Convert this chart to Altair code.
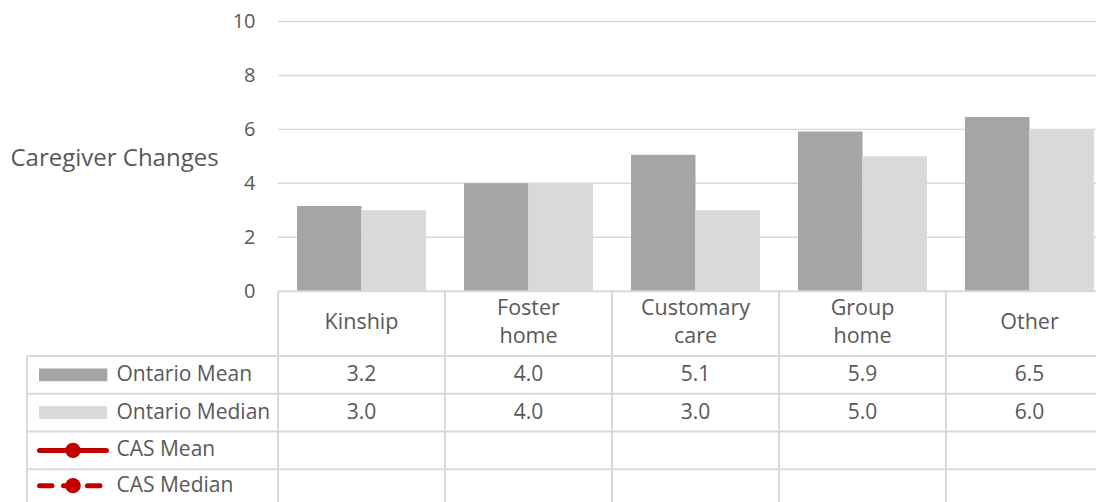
import altair as alt
import pandas as pd

# ---------------- data ----------------
categories = ["Kinship", "Foster home", "Customary care", "Group home", "Other"]
category_labels = ["Kinship", "Foster\nhome", "Customary\ncare", "Group\nhome", "Other"]
ontario_mean = [3.16, 4.0, 5.06, 5.92, 6.46]
ontario_median = [3.0, 4.0, 3.0, 5.0, 6.0]
series_names = ["Ontario Mean", "Ontario Median", "CAS Mean", "CAS Median"]
y_ticks = [0, 2, 4, 6, 8, 10]
y_title = "Caregiver Changes"

# ---------------- layout (pixels of the 1104x502 page) ----------------
PAGE_X0, PAGE_Y0 = 278.0, 291.2      # page position of (category 0 start, value 0)
PX_PER_COL, PX_PER_UNIT = 167.0, 26.97
SVG_LEFT, SVG_TOP = 8.0, 8.0
W, H = 1088, 494

def xu(px):
    return (px - PAGE_X0) / PX_PER_COL

def yu(py):
    return (PAGE_Y0 - py) / PX_PER_UNIT

X_DOMAIN = [xu(SVG_LEFT), xu(SVG_LEFT + W)]
Y_DOMAIN = [yu(SVG_TOP + H), yu(SVG_TOP)]
TABLE_LEFT = xu(27)
HEADER_MID = yu(323.4)
HEADER_LINE_H = 28.0 / PX_PER_UNIT
ROW_TOP = yu(356)
ROW_H = 37.75 / PX_PER_UNIT
N_COLS = len(categories)
BAR_PAD = 19.0 / PX_PER_COL
LABEL_X = xu(116.5)
SYM_X0, SYM_X1 = xu(39), xu(107.3)
LINE_X0, LINE_X1 = xu(39.5), xu(106.5)
SYM_MID = xu(73)
SYM_HALF_H = 6.3 / PX_PER_UNIT


def row_center(r):
    top = ROW_TOP - r * ROW_H
    bottom = max(top - ROW_H, Y_DOMAIN[0])   # last row is cut by the page edge
    return (top + bottom) / 2


TEXT = "#595959"
GRID = "#D9D9D9"
MEAN_C = "#A5A5A5"
MEDIAN_C = "#D9D9D9"
RED = "#C00000"
FONT = "Open Sans"

xs = alt.Scale(domain=X_DOMAIN, nice=False, zero=False)
ys = alt.Scale(domain=Y_DOMAIN, nice=False, zero=False)

# ---------------- tables ----------------
bars = pd.DataFrame(
    [{"cat": c, "idx": i, "series": "Ontario Mean", "value": v, "x0": i + BAR_PAD, "x1": i + 0.5}
     for i, (c, v) in enumerate(zip(categories, ontario_mean))]
    + [{"cat": c, "idx": i, "series": "Ontario Median", "value": v, "x0": i + 0.5, "x1": i + 1 - BAR_PAD}
       for i, (c, v) in enumerate(zip(categories, ontario_median))]
)
bars["base"] = 0.0

grid_df = pd.DataFrame({"v": [t for t in y_ticks if t > 0], "x0": 0.0, "x1": float(N_COLS)})

header_rows = []
for i, lab in enumerate(category_labels):
    lines = lab.split("\n")
    n = len(lines)
    for k, line in enumerate(lines):
        header_rows.append({"label": line, "xc": i + 0.5,
                            "y": HEADER_MID + ((n - 1) / 2 - k) * HEADER_LINE_H})
header_df = pd.DataFrame(header_rows)

cells = []
for r, vals in enumerate([ontario_mean, ontario_median]):
    for i, v in enumerate(vals):
        cells.append({"xc": i + 0.5, "y": row_center(r), "txt": f"{v:.1f}"})
cells_df = pd.DataFrame(cells)

row_labels_df = pd.DataFrame({
    "label": series_names,
    "x": LABEL_X,
    "y": [row_center(r) for r in range(len(series_names))],
})

# table lines
hlines = pd.DataFrame(
    [{"y": 0.0, "x0": 0.0, "x1": float(N_COLS)}]
    + [{"y": ROW_TOP - r * ROW_H, "x0": TABLE_LEFT, "x1": float(N_COLS)} for r in range(len(series_names) + 1)]
)
vlines = pd.DataFrame(
    [{"x": float(i), "y0": 0.0, "y1": Y_DOMAIN[0]} for i in range(N_COLS + 1)]
    + [{"x": TABLE_LEFT, "y0": ROW_TOP, "y1": Y_DOMAIN[0]}]
)

sym_rect = pd.DataFrame({
    "series": series_names[:2],
    "x0": SYM_X0, "x1": SYM_X1,
    "yc": [row_center(r) for r in range(2)],
})
sym_rect["ya"] = sym_rect["yc"] - SYM_HALF_H
sym_rect["yb"] = sym_rect["yc"] + SYM_HALF_H

cas_line = pd.DataFrame({"x0": [LINE_X0], "x1": [LINE_X1], "y": [row_center(2)]})
cas_med_line = pd.DataFrame({"x0": [LINE_X0], "x1": [LINE_X1], "y": [row_center(3)]})
cas_pts = pd.DataFrame({"x": [SYM_MID, SYM_MID], "y": [row_center(2), row_center(3)]})

color_scale = alt.Scale(domain=["Ontario Mean", "Ontario Median"], range=[MEAN_C, MEDIAN_C])

# ---------------- layers ----------------
axis_layer = alt.Chart(pd.DataFrame({"v": y_ticks})).mark_rule(opacity=0).encode(
    y=alt.Y("v:Q", scale=ys, axis=alt.Axis(
        values=y_ticks, offset=-(PAGE_X0 - SVG_LEFT), domain=False, ticks=False, tickSize=0,
        grid=False, labelPadding=23, labelFontSize=20, labelFont=FONT, labelColor=TEXT,
        labelFlush=False, labelBound=False,
        title=y_title, titleAngle=0, titleX=-(PAGE_X0 - 114), titleY=158.5 - SVG_TOP,
        titleAlign="center", titleBaseline="middle", titleFontSize=24,
        titleFont=FONT, titleColor=TEXT, titleFontWeight="normal")),
    x=alt.value(0),
)

grid_layer = alt.Chart(grid_df).mark_rule(color=GRID, strokeWidth=1.4).encode(
    x=alt.X("x0:Q", scale=xs, axis=None), x2="x1:Q",
    y=alt.Y("v:Q", scale=ys),
)

bar_layer = alt.Chart(bars).mark_rect().encode(
    x=alt.X("x0:Q", scale=xs, axis=None), x2="x1:Q",
    y=alt.Y("base:Q", scale=ys), y2="value:Q",
    color=alt.Color("series:N", scale=color_scale, legend=None),
)

hline_layer = alt.Chart(hlines).mark_rule(color=GRID, strokeWidth=2).encode(
    x=alt.X("x0:Q", scale=xs, axis=None), x2="x1:Q", y=alt.Y("y:Q", scale=ys),
)
vline_layer = alt.Chart(vlines).mark_rule(color=GRID, strokeWidth=2).encode(
    x=alt.X("x:Q", scale=xs, axis=None), y=alt.Y("y0:Q", scale=ys), y2="y1:Q",
)

header_layer = alt.Chart(header_df).mark_text(
    font=FONT, fontSize=21.5, color=TEXT, baseline="middle", align="center"
).encode(
    x=alt.X("xc:Q", scale=xs, axis=None), y=alt.Y("y:Q", scale=ys), text="label:N",
)

cell_layer = alt.Chart(cells_df).mark_text(
    font=FONT, fontSize=21, color=TEXT, baseline="middle", align="center"
).encode(
    x=alt.X("xc:Q", scale=xs, axis=None), y=alt.Y("y:Q", scale=ys), text="txt:N",
)

row_label_layer = alt.Chart(row_labels_df).mark_text(
    font=FONT, fontSize=21, color=TEXT, baseline="middle", align="left"
).encode(
    x=alt.X("x:Q", scale=xs, axis=None), y=alt.Y("y:Q", scale=ys), text="label:N",
)

sym_rect_layer = alt.Chart(sym_rect).mark_rect().encode(
    x=alt.X("x0:Q", scale=xs, axis=None), x2="x1:Q",
    y=alt.Y("ya:Q", scale=ys), y2="yb:Q",
    color=alt.Color("series:N", scale=color_scale, legend=None),
)

cas_line_layer = alt.Chart(cas_line).mark_rule(color=RED, strokeWidth=5, strokeCap="round").encode(
    x=alt.X("x0:Q", scale=xs, axis=None), x2="x1:Q", y=alt.Y("y:Q", scale=ys),
)
cas_med_layer = alt.Chart(cas_med_line).mark_rule(
    color=RED, strokeWidth=5, strokeCap="round", strokeDash=[12.5, 11.5]
).encode(
    x=alt.X("x0:Q", scale=xs, axis=None), x2="x1:Q", y=alt.Y("y:Q", scale=ys),
)
cas_pt_layer = alt.Chart(cas_pts).mark_point(filled=True, shape="circle", size=240, color=RED, opacity=1).encode(
    x=alt.X("x:Q", scale=xs, axis=None), y=alt.Y("y:Q", scale=ys),
)

chart = alt.layer(
    axis_layer, grid_layer, bar_layer, hline_layer, vline_layer,
    header_layer, cell_layer, row_label_layer,
    sym_rect_layer, cas_line_layer, cas_med_layer, cas_pt_layer,
).properties(
    width=W, height=H, padding=0, autosize=alt.AutoSizeParams(type="none"),
    background="white",
).configure_view(stroke=None)

chart.save("out.html", embed_options={"renderer": "svg", "actions": False})
